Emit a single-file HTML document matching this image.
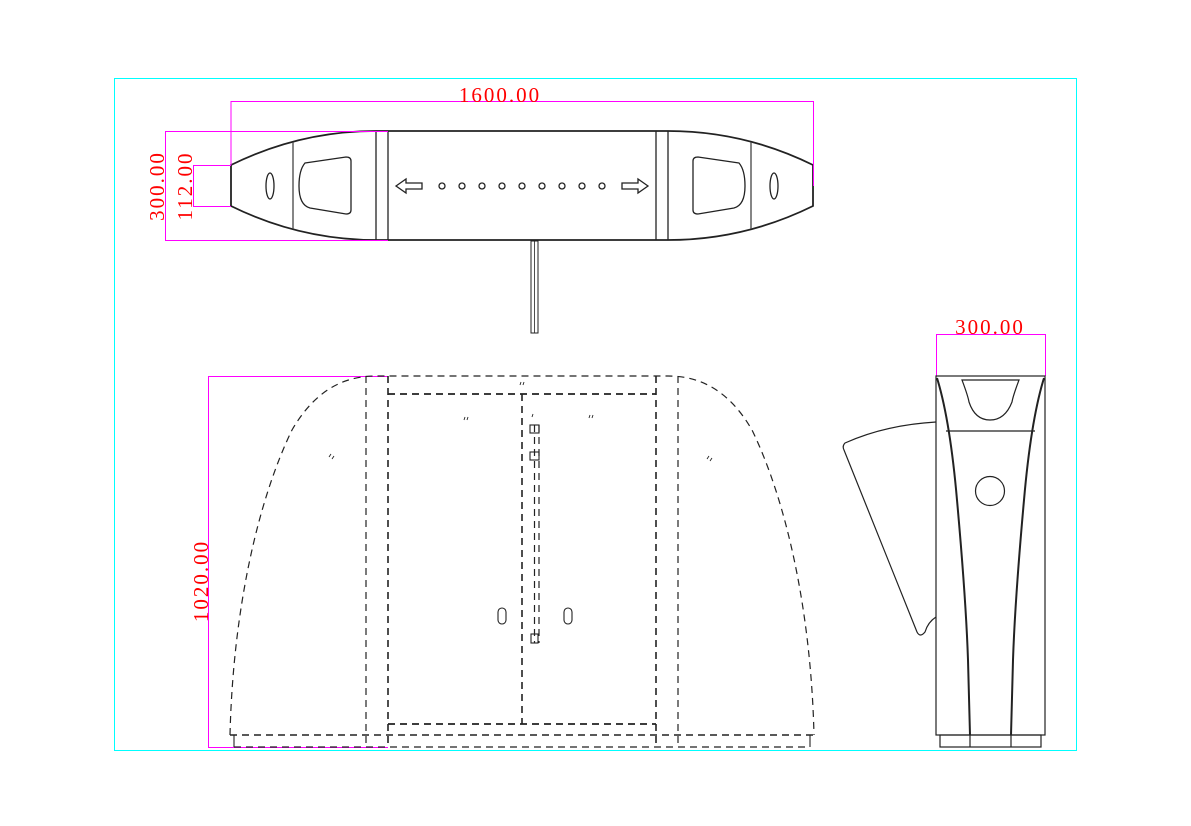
<!DOCTYPE html>
<html><head><meta charset="utf-8"><style>
html,body{margin:0;padding:0;background:#fff;width:1191px;height:826px;overflow:hidden}
svg{display:block}
text{font-family:"Liberation Serif",serif;fill:#ff0000;font-size:21px;letter-spacing:2px}
</style></head><body>
<svg width="1191" height="826" viewBox="0 0 1191 826" xmlns="http://www.w3.org/2000/svg">
<rect x="114.5" y="78.5" width="962" height="672" fill="none" stroke="#00ffff" stroke-width="1"/>

<!-- TOP VIEW -->
<g fill="none" stroke="#222" stroke-width="1.3">
<path d="M231,165 Q300,131 376,131 L668,131 Q744,131 813,165 L813,206 Q744,240 668,240 L376,240 Q300,240 231,206 Z" stroke-width="1.8"/>
<line x1="376" y1="131" x2="376" y2="240"/>
<line x1="388" y1="131" x2="388" y2="240"/>
<line x1="656" y1="131" x2="656" y2="240"/>
<line x1="668" y1="131" x2="668" y2="240"/>
<line x1="293" y1="142" x2="293" y2="229" stroke="#444"/>
<line x1="751" y1="142" x2="751" y2="229" stroke="#444"/>
<ellipse cx="270" cy="186" rx="4" ry="13"/>
<ellipse cx="774" cy="186" rx="4" ry="13"/>
<path d="M305,163 L346,157 Q351,157 351,161 L351,210 Q351,214 346,214 L310,208 Q299,205 299,186 Q299,170 305,163 Z"/>
<path d="M739,163 L698,157 Q693,157 693,161 L693,210 Q693,214 698,214 L734,208 Q745,205 745,186 Q745,170 739,163 Z"/>
<path d="M396,186 L406,179 L406,183 L422,183 L422,189 L406,189 L406,193 Z"/>
<path d="M648,186 L638,179 L638,183 L622,183 L622,189 L638,189 L638,193 Z"/>
<circle cx="442" cy="186" r="3"/><circle cx="462" cy="186" r="3"/><circle cx="482" cy="186" r="3"/>
<circle cx="502" cy="186" r="3"/><circle cx="522" cy="186" r="3"/><circle cx="542" cy="186" r="3"/>
<circle cx="562" cy="186" r="3"/><circle cx="582" cy="186" r="3"/><circle cx="602" cy="186" r="3"/>
<rect x="531" y="241" width="7" height="92" stroke-width="1"/>
<line x1="534.5" y1="241" x2="534.5" y2="333" stroke-width="0.8"/>
</g>

<!-- dims -->
<g fill="none" stroke="#ff00ff" stroke-width="1">
<polyline points="231,165 231,101.5 813.5,101.5 813.5,186"/>
<polyline points="388,131.5 165.5,131.5 165.5,240.5 388,240.5"/>
<polyline points="231,165.5 193.5,165.5 193.5,206.5 231,206.5"/>
<polyline points="936.5,376 936.5,334.5 1045.5,334.5 1045.5,376"/>
<polyline points="388,376.5 208.5,376.5 208.5,747.5 388,747.5"/>
</g>
<text x="500" y="102" text-anchor="middle">1600.00</text>
<text transform="translate(164,186) rotate(-90)" text-anchor="middle">300.00</text>
<text transform="translate(192,186) rotate(-90)" text-anchor="middle">112.00</text>
<text x="990" y="334" text-anchor="middle">300.00</text>
<text transform="translate(208,581) rotate(-90)" text-anchor="middle">1020.00</text>

<!-- FRONT VIEW -->
<g fill="none" stroke="#222" stroke-width="1.2" stroke-dasharray="7,5">
<path d="M230,735 C233,610 258,500 292,430 C318,385 350,376 376,376 L668,376 C694,376 726,385 752,430 C786,500 811,610 814,735"/>
<line x1="366" y1="376" x2="366" y2="747"/>
<line x1="388" y1="376" x2="388" y2="747" stroke-width="1.6"/>
<line x1="656" y1="376" x2="656" y2="747" stroke-width="1.6"/>
<line x1="678" y1="376" x2="678" y2="747"/>
<line x1="388" y1="394" x2="656" y2="394" stroke-width="1.8"/>
<line x1="388" y1="724" x2="656" y2="724" stroke-width="1.8"/>
<line x1="522" y1="394" x2="522" y2="724" stroke-width="1.6"/>
<line x1="230" y1="735" x2="814" y2="735" stroke-width="1.4"/>
<line x1="234" y1="747" x2="810" y2="747"/>
<line x1="534.5" y1="425" x2="534.5" y2="643"/>
<line x1="539" y1="425" x2="539" y2="643"/>
</g>
<g fill="none" stroke="#222" stroke-width="1.1">
<line x1="234" y1="735" x2="234" y2="747"/>
<line x1="810" y1="735" x2="810" y2="747"/>
<rect x="498" y="608" width="8" height="16" rx="4"/>
<rect x="564" y="608" width="8" height="16" rx="4"/>
<rect x="530" y="425" width="9" height="8"/>
<rect x="530" y="452" width="9" height="8"/>
<rect x="531" y="634" width="7" height="9"/>
<path d="M329,457 l2,-3 M332,459 l2,-3 M464,420 l1,-3 M467,420 l1,-3 M520,385 l1,-3 M523,385 l1,-3 M532,417 l1,-3 M589,418 l1,-3 M592,418 l1,-3 M707,459 l2,-3 M710,461 l2,-3" stroke-width="0.9"/>
</g>

<!-- SIDE VIEW -->
<g fill="none" stroke="#222" stroke-width="1.2">
<rect x="936" y="376" width="109" height="359"/>
<rect x="940" y="735" width="101" height="12"/>
<line x1="970" y1="735" x2="970" y2="747"/>
<line x1="1011" y1="735" x2="1011" y2="747"/>
<path d="M937,378 Q950,420 957,500 Q966,600 968,660 L970,735" stroke-width="2"/>
<path d="M1044,378 Q1031,420 1024,500 Q1015,600 1013,660 L1011,735" stroke-width="2"/>
<line x1="946" y1="431" x2="1035" y2="431"/>
<path d="M962,380 L1019,380 Q1013,396 1012,402 Q1005,420 990,420 Q975,420 969,402 Q968,396 962,380 Z"/>
<circle cx="990" cy="491" r="14.5"/>
<path d="M936,422 Q885,425 845,443 Q842,446 844,450 L917,632 Q920,638 925,632 Q928,622 936,617"/>
</g>
</svg>
</body></html>
